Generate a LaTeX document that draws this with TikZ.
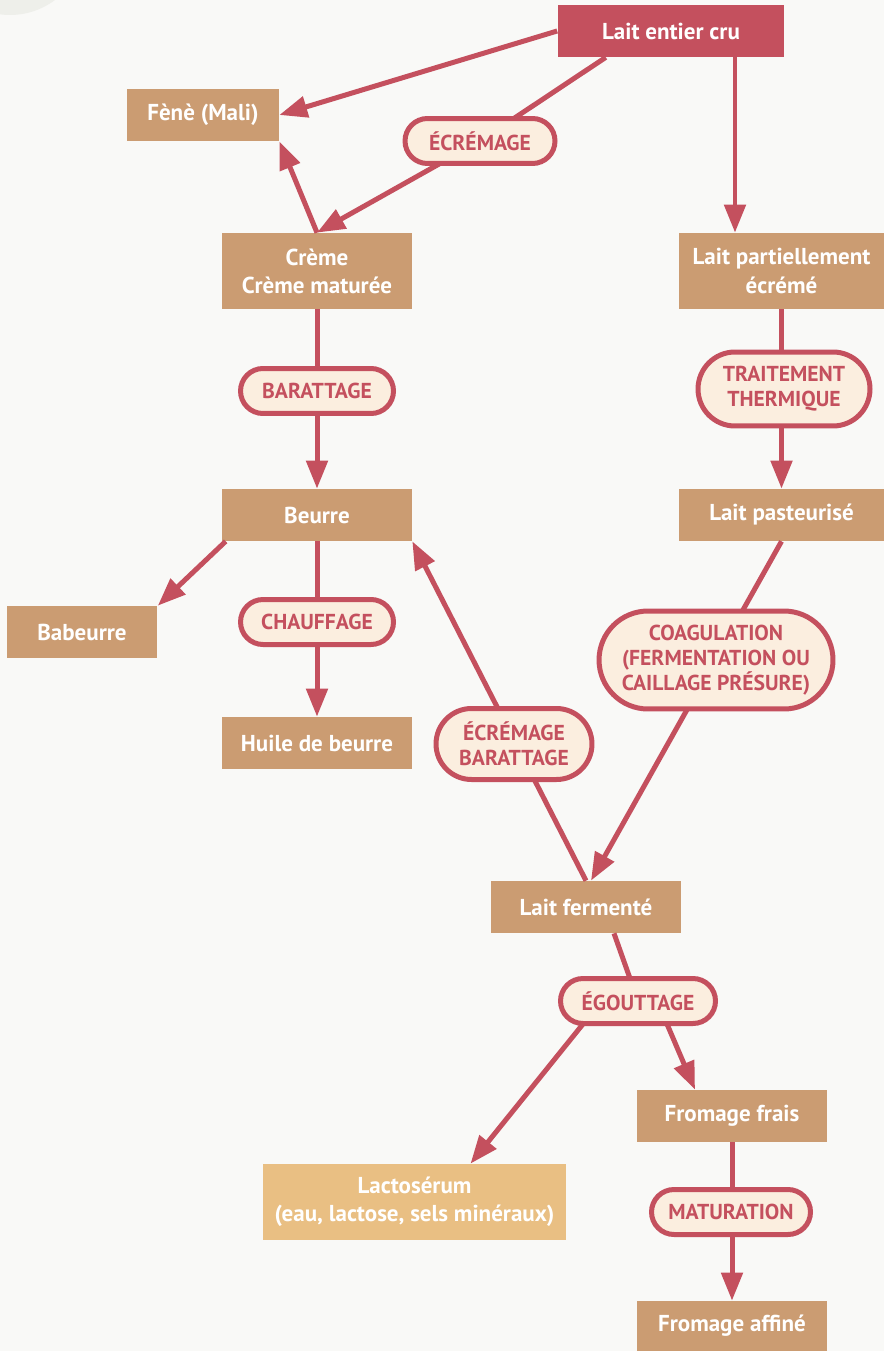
\documentclass[tikz,border=0pt]{standalone}
\usepackage{fontspec}
\setmainfont{PT Sans}
\usepackage{xcolor}
\usepackage{tikz}
\usetikzlibrary{shapes,shapes.misc,arrows.meta,positioning}

\definecolor{fond}{HTML}{F9F9F7}
\definecolor{disque}{HTML}{EEEFEA}
\definecolor{brun}{HTML}{CB9C72}
\definecolor{rouge}{HTML}{C4505E}
\definecolor{creme}{HTML}{FBEEDF}
\definecolor{ocre}{HTML}{E9BF83}

\begin{document}
\begin{tikzpicture}[
    x=0.02cm, y=-0.02cm,
    produit/.style={fill=brun, text=white, inner sep=0pt,
                    minimum width=3.8cm, minimum height=1.04cm,
                    align=center, font=\fontsize{13.1}{16}\selectfont\bfseries},
    source/.style={produit, fill=rouge},
    serum/.style={produit, fill=ocre},
    procede/.style={rounded rectangle, draw=rouge, line width=0.1cm, fill=creme,
                    text=rouge, inner sep=0pt, minimum height=0.9cm,
                    align=center, font=\fontsize{12.3}{14.2}\selectfont\bfseries},
    lien/.style={draw=rouge, line width=0.1cm},
    flow/.style={lien, -{Triangle[length=0.56cm, width=0.42cm]}}
]

% Background
\useasboundingbox (0,0) rectangle (884,1351);
\fill[fond] (0,0) rectangle (884,1351);
\begin{scope}
  \clip (0,0) rectangle (884,1351);
  \fill[disque] (10,-60) circle[radius=1.5cm];
\end{scope}

% Top: raw milk and cream line
\node[source, minimum width=4.54cm] (lait) at (671,31) {Lait entier cru};
\node[produit, minimum width=3.04cm] (fene) at (203,115) {Fènè (Mali)};
\node[produit, minimum height=1.52cm] (creme) at (317,271) {Crème\\Crème maturée};
\node[produit, minimum width=4.1cm, minimum height=1.52cm] (lpe) at (781.5,271)
    {Lait partiellement\\écrémé};

% Butter branch
\node[produit] (beurre) at (317,515) {Beurre};
\node[produit, minimum width=3.02cm] (babeurre) at (82,632) {Babeurre};
\node[produit] (huile) at (317,743) {Huile de beurre};

% Fermented milk and cheese
\node[produit, minimum width=4.1cm] (past) at (781.5,515) {Lait pasteurisé};
\node[produit] (ferm) at (586,907) {Lait fermenté};
\node[produit] (frais) at (732,1116) {Fromage frais};
\node[serum, minimum width=6.06cm, minimum height=1.52cm] (lacto) at (414.5,1202)
    {Lactosérum\\(eau, lactose, sels minéraux)};
\node[produit, minimum height=1cm] (affine) at (732,1326) {Fromage affiné};

% Connectors under the process labels
\draw[flow] (lait.west) -- (fene.east);
\draw[lien] (lait.202) -- (480,141);
\draw[flow] (480,141) -- (creme.north);
\draw[flow] (creme.north) -- (fene.south east);
\draw[flow] ([xshift=1.28cm]lait.south) -- ([xshift=1.28cm]lait.south |- lpe.north);
\draw[flow] (creme.south) -- (beurre.north);
\draw[flow] (lpe.south) -- (past.north);
\draw[flow] ([xshift=0.08cm]beurre.south west) -- (babeurre.north east);
\draw[flow] (beurre.south) -- (huile.north);
\draw[flow] (past.south) -- ([xshift=0.1cm]ferm.north);
\draw[flow] (ferm.north) -- (beurre.south east);
\draw[lien] ([xshift=0.56cm]ferm.south) -- (638,1001);
\draw[flow] (583,1024) -- ([xshift=1.12cm]lacto.north);
\draw[flow] (667,1024) -- ([xshift=-0.74cm]frais.north);
\draw[flow] (frais.south) -- (affine.north);

% Process labels
\node[procede, minimum width=3cm] (ecr) at (480,141) {ÉCRÉMAGE};
\node[procede, minimum width=3.06cm] (barat) at (317,391) {BARATTAGE};
\node[procede, minimum width=3.44cm, minimum height=1.48cm] (trait) at (784,389)
    {TRAITEMENT\\THERMIQUE};
\node[procede, minimum width=3.06cm] (chauf) at (317,622) {CHAUFFAGE};
\node[procede, minimum width=4.68cm, minimum height=1.96cm] (coag) at (716,660)
    {COAGULATION\\(FERMENTATION OU\\CAILLAGE PRÉSURE)};
\node[procede, minimum width=3.12cm, minimum height=1.42cm] (ecrbar) at (514,744)
    {ÉCRÉMAGE\\BARATTAGE};
\node[procede, minimum width=3.1cm] (egout) at (638,1001) {ÉGOUTTAGE};
\node[procede, minimum width=3.18cm] (matur) at (731,1212) {MATURATION};

\end{tikzpicture}
\end{document}
